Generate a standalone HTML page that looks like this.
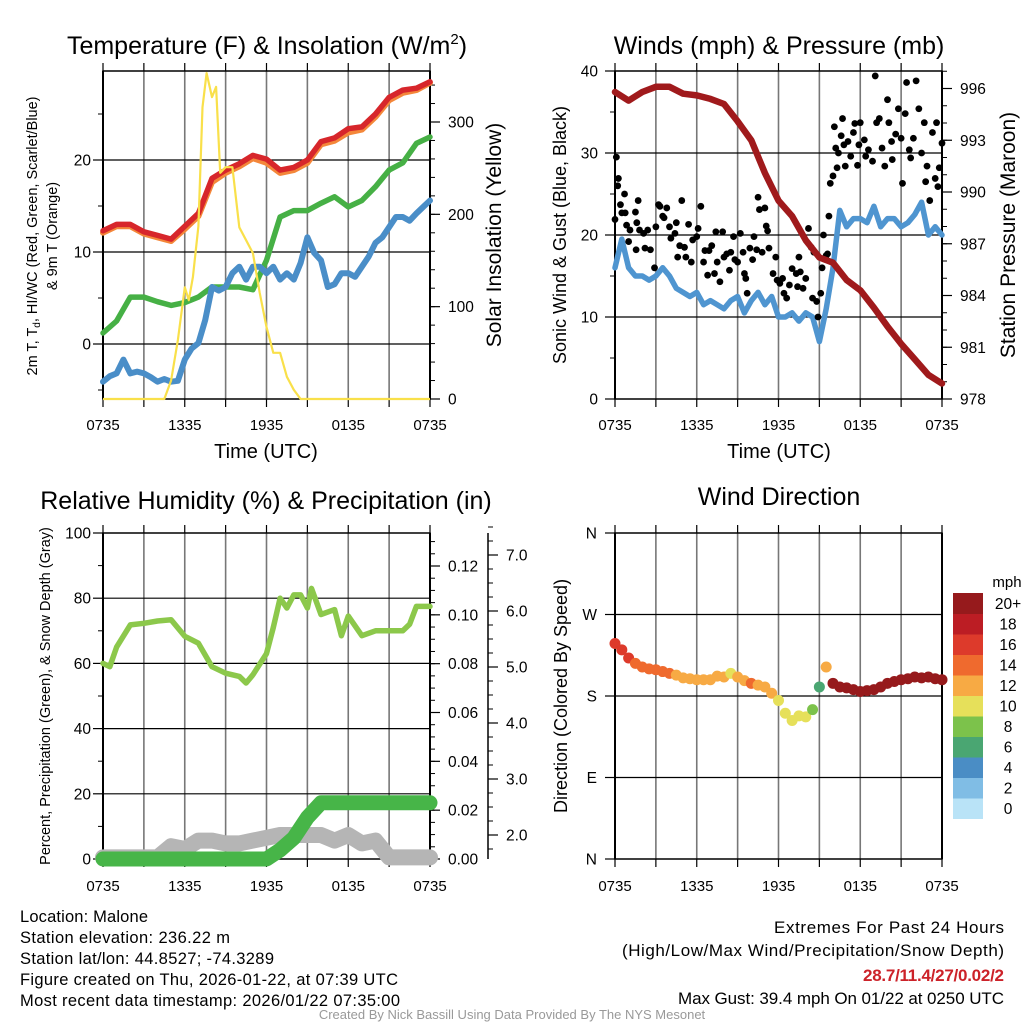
<!DOCTYPE html>
<html><head><meta charset="utf-8">
<style>
html,body{margin:0;padding:0;background:#fff;}
svg{display:block;font-family:"Liberation Sans",sans-serif;}
.narrow{font-family:"Liberation Sans Narrow","Liberation Sans",sans-serif;}
</style></head>
<body>
<svg id="chart" width="1024" height="1024" viewBox="0 0 1024 1024" xmlns="http://www.w3.org/2000/svg">
<rect width="1024" height="1024" fill="#fff"/>
<text x="267" y="54" font-size="25" text-anchor="middle">Temperature (F) &amp; Insolation (W/m<tspan font-size="15" dy="-10">2</tspan><tspan dy="10">)</tspan></text>
<text x="779" y="54" font-size="25" text-anchor="middle">Winds (mph) &amp; Pressure (mb)</text>
<text x="266" y="509" font-size="25" text-anchor="middle">Relative Humidity (%) &amp; Precipitation (in)</text>
<text x="779" y="505" font-size="25" text-anchor="middle">Wind Direction</text>

<text transform="translate(37,236) rotate(-90)" font-size="14.5" text-anchor="middle">2m T, T<tspan font-size="10" dy="3">d</tspan><tspan dy="-3">, HI/WC (Red, Green, Scarlet/Blue)</tspan></text>
<text transform="translate(57,236) rotate(-90)" font-size="14.5" text-anchor="middle">&amp; 9m T (Orange)</text>
<text transform="translate(501,235) rotate(-90)" font-size="21" text-anchor="middle">Solar Insolation (Yellow)</text>
<text transform="translate(566,235) rotate(-90)" font-size="18" text-anchor="middle">Sonic Wind &amp; Gust (Blue, Black)</text>
<text transform="translate(1015,235) rotate(-90)" font-size="21" text-anchor="middle">Station Pressure (Maroon)</text>
<text transform="translate(50,696) rotate(-90)" font-size="14.5" text-anchor="middle">Percent, Precipitation (Green), &amp; Snow Depth (Gray)</text>
<text transform="translate(567,696) rotate(-90)" font-size="18" text-anchor="middle">Direction (Colored By Speed)</text>
<text x="266" y="458" font-size="20" text-anchor="middle">Time (UTC)</text>
<text x="779" y="458" font-size="20" text-anchor="middle">Time (UTC)</text>

<g class="narrow" font-size="16.5">
<text x="20" y="922" textLength="128">Location: Malone</text>
<text x="20" y="943" textLength="210">Station elevation: 236.22 m</text>
<text x="20" y="964" textLength="254">Station lat/lon: 44.8527; -74.3289</text>
<text x="20" y="985" textLength="378">Figure created on Thu, 2026-01-22, at 07:39 UTC</text>
<text x="20" y="1006" textLength="380">Most recent data timestamp: 2026/01/22 07:35:00</text>
</g>
<g class="narrow" font-size="17" text-anchor="end">
<text x="1004" y="933" textLength="230">Extremes For Past 24 Hours</text>
<text x="1004" y="956" textLength="382">(High/Low/Max Wind/Precipitation/Snow Depth)</text>
<text x="1004" y="981" textLength="141" fill="#cc2229" font-weight="bold">28.7/11.4/27/0.02/2</text>
<text x="1004" y="1004" textLength="326">Max Gust: 39.4 mph On 01/22 at 0250 UTC</text>
</g>
<text x="512" y="1019" class="narrow" font-size="13" fill="#999" text-anchor="middle">Created By Nick Bassill Using Data Provided By The NYS Mesonet</text>
</svg>
<script>
// ---------- DATA ----------
const hours=[0,1,2,3,4,5,6,7,8,9,10,11,12,13,14,15,16,17,18,19,20,21,22,23,24];
const halfHours=[0,0.5,1,1.5,2,2.5,3,3.5,4,4.5,5,5.5,6,6.5,7,7.5,8,8.5,9,9.5,10,10.5,11,11.5,12,12.5,13,13.5,14,14.5,15,15.5,16,16.5,17,17.5,18,18.5,19,19.5,20,20.5,21,21.5,22,22.5,23,23.5,24];
const tempRed=[12.3,13.0,13.0,12.2,11.8,11.4,12.8,14.2,18.0,18.9,19.6,20.5,20.1,18.9,19.2,20.0,22.0,22.4,23.4,23.6,25.0,26.8,27.6,27.8,28.5];
const temp9m=[12.1,12.8,12.8,12.0,11.6,11.2,12.5,13.9,17.6,18.6,19.3,20.2,19.7,18.6,18.9,19.7,21.7,22.1,23.0,23.3,24.7,26.5,27.3,27.6,28.4];
const dewpoint=[1.2,2.5,5.1,5.1,4.6,4.2,4.5,5.1,6.2,6.2,6.2,5.9,9.1,13.8,14.5,14.5,15.3,16.0,14.9,15.6,17.1,18.9,19.7,21.8,22.5];
const windChill=[-4.1,-3.5,-3.2,-1.7,-3.2,-3.0,-3.2,-3.6,-4.1,-3.8,-4.1,-4.0,-1.7,-0.5,0.1,2.6,6.2,5.8,6.2,7.7,8.4,7.0,8.4,8.4,7.7,8.4,7.0,7.7,7.0,8.8,11.6,9.9,9.1,6.2,6.5,7.7,7.7,7.3,8.4,9.5,11.0,11.6,12.7,13.8,13.8,13.4,14.2,14.9,15.6];
const solarTimes=[0,4.5,5,5.5,6,6.3,6.6,7,7.3,7.6,8,8.3,8.6,9,9.5,10,10.5,11,11.5,12,12.5,13,13.5,14,14.5,24];
const solarValues=[0,0,20,64,121,107,132,187,316,353,327,338,245,251,251,186,172,158,115,78,50,50,24,10,0,0];
const pressure=[995.8,995.3,995.8,996.1,996.1,995.7,995.6,995.4,995.1,994.1,993.0,991.1,989.5,988.6,987.2,986.2,985.9,984.9,984.3,983.3,982.2,981.2,980.3,979.4,978.9];
const sonicWind=[16,19.5,16,15,15,14.5,15,16,15,13.5,13,12.5,13,11.5,12,11.5,11,12,12.5,10.5,12,13,11.5,12.5,10,10,10.5,9.5,10.5,10,7,11,16,23,21,22,22,21.5,23.5,21,22,22,21,21.5,22.5,24,20,21,20];
const gustTimes=[0,0.1,0.2,0.25,0.4,0.5,0.7,0.75,0.85,1,1.1,1.5,1.55,1.6,1.7,1.8,2.1,2.2,2.4,2.6,2.9,3.0,3.2,3.3,3.5,3.6,3.8,4.0,4.1,4.4,4.5,4.6,4.75,4.9,5.1,5.2,5.4,5.6,5.7,6.0,6.1,6.3,6.5,6.6,6.8,6.9,7.1,7.3,7.4,7.5,7.7,7.9,8.0,8.2,8.4,8.5,8.7,8.8,9.0,9.2,9.4,9.5,9.6,9.7,9.9,10.1,10.2,10.4,10.5,10.6,10.8,11.0,11.1,11.2,11.3,11.6,11.8,11.9,12.1,12.3,12.4,12.6,12.8,13.0,13.3,13.4,13.5,13.6,13.8,14.0,14.2,14.4,14.5,14.6,14.8,14.9,15.1,15.2,15.3,15.5,15.6,15.7,15.8,16.0,16.1,16.2,16.3,16.4,16.6,16.7,16.8,16.9,17.1,17.3,17.5,17.6,17.8,17.9,18.0,18.3,18.4,18.6,18.9,19.1,19.2,19.4,19.6,19.8,20.0,20.1,20.3,20.35,20.6,20.8,21.0,21.1,21.3,21.4,21.6,21.7,21.9,22.1,22.3,22.5,22.7,22.8,22.9,23.1,23.3,23.5,23.6,23.7,23.8,24.0];
const gustValues=[21.9,29.5,26,26.9,23.7,22.7,25,22.7,21.2,19.2,20.6,22.8,18.2,21.5,24.2,20.6,20.2,18.4,20.6,18.2,16,21,23.7,23.5,22.3,22.1,23.3,21,19.6,20.2,21.5,17.3,18.7,24.2,18.5,17.3,21.3,16.7,19.4,19.8,20.8,23.5,16.7,18.1,15.1,18.1,18.7,15.3,20.4,16.7,14.3,20.4,17.3,17.7,15.7,17.9,19.8,17,16.7,20.2,17.9,15.3,14.7,12.9,18.4,17,19.8,18.2,24.6,23.1,17.9,23.3,21.1,20.5,18.4,15.3,17.3,14.5,14.1,14.7,12.9,12.3,13.9,15.9,15.3,13.7,17.3,15.5,13.5,14.7,20.8,18.5,12.3,17.9,11.9,10.0,12.9,16,20,17.5,17.7,22.3,26.3,27.2,33.2,30.6,28.2,30,32.1,34.2,31,28.4,31.4,29.6,32.5,33.6,28.5,31,33.7,31.6,29.6,30.4,29,39.4,33.7,34.2,30.6,28.4,36.5,33.7,31.4,29.2,32.3,35.4,31.8,26.3,34.8,38.6,30.4,29.4,31.8,38.8,35.4,30,33.7,26.5,28.4,24.2,32.5,26.9,33.7,25.9,28.2,31.2];
const rhTimes=[0,0.5,1,2,3,4,5,6,7,8,9,10,10.5,11,12,12.5,13,13.5,14,14.5,15,15.3,16,17,17.5,18,19,20,21,22,22.5,23,24];
const rhValues=[60,59,65,71.8,72.3,73,73.4,68.3,66.2,59,57,56,54,56.5,63,71,80,77,81,81,77,83,75,76.5,68.5,74.5,68.5,70,70,70,72,77.5,77.5];
const precip=[0,0,0,0,0,0,0,0,0,0,0,0,0,0.0037,0.0086,0.017,0.023,0.023,0.023,0.023,0.023,0.023,0.023,0.023,0.023];
const snowDepth=[1.6,1.6,1.6,1.6,1.6,1.8,1.75,1.9,1.9,1.85,1.85,1.9,1.95,2.0,2.0,2.0,2.0,1.9,2.0,1.85,1.9,1.6,1.6,1.6,1.6];
const dirDegrees=[238,231,222,216,212,210,209,207,205,203,200,199,198,198,198,202,201,205,201,197,194,192,190,183,175,161,153,158,157,165,190,212,194,190,189,187,185,186,187,190,194,196,198,199,201,200,201,199,198];
const dirSpeed=[16,17,16,15,14,14,14,14,14,13,13,12,12,12,13,12,12,11,12,13,14,13,13,12,11,10,10,11,10,9,7,12,21,22,21,21,22,22,22,21,21,22,21,21,22,23,21,21,20];
const speedBins=["0","2","4","6","8","10","12","14","16","18","20+"];
const speedColors=["#b9e3f7","#80bde5","#4a8dc5","#4aa672","#7cc24b","#e6e05a","#f7aa44","#ef6a2e","#dd3a2b","#bc1d24","#961a1c"];

// ---------- HELPERS ----------
const NS='http://www.w3.org/2000/svg';
const svg=document.getElementById('chart');
function mk(parent,tag,attrs,name,inter){
  const el=document.createElementNS(NS,tag);
  for(const k in attrs) el.setAttribute(k,attrs[k]);
  
  
  parent.appendChild(el);
  return el;
}
const PW=327;
function xScale(x0){return t=>x0+t/24*PW;}
function yScale(yBot,yTop,vBot,vTop){return v=>yBot+(v-vBot)/(vTop-vBot)*(yTop-yBot);}
function linePath(xs,ys,X,Y){return xs.map((t,i)=>(i?'L':'M')+X(t).toFixed(1)+','+Y(ys[i]).toFixed(1)).join(' ');}
const xLabels=["0735","1335","1935","0135","0735"];

function panelFrame(g,x0,y0,x1,y1,hGridY){
  for(let k=0;k<=8;k++){
    const x=x0+k*PW/8;
    mk(g,'line',{x1:x,y1:y0,x2:x,y2:y1,stroke:(k==0||k==8)?'#000':'#777','stroke-width':(k==0||k==8)?2:1.6},'x-gridline',false);
    mk(g,'line',{x1:x,y1:y0-8,x2:x,y2:y0,stroke:'#000','stroke-width':1.2},'x-tick-top',false);
    mk(g,'line',{x1:x,y1:y1,x2:x,y2:y1+8,stroke:'#000','stroke-width':1.2},'x-tick',false);
  }
  hGridY.forEach(y=>mk(g,'line',{x1:x0,y1:y,x2:x1,y2:y,stroke:'#000','stroke-width':1.2},'y-gridline',false));
  mk(g,'rect',{x:x0,y:y0,width:x1-x0,height:y1-y0,fill:'none',stroke:'#000','stroke-width':1.5},'plot-frame',false);
}
function xTickLabels(g,x0,y){
  xLabels.forEach((s,i)=>{
    const t=mk(g,'text',{x:x0+i*PW/4,y:y,'font-size':15,'text-anchor':'middle'},'x-tick-label',false);
    t.textContent=s;
  });
}
function yAxis(g,x,Y,majors,minors,labelFn,side,labelX,fs){
  const d=side==='left'?-1:1;
  minors.forEach(v=>mk(g,'line',{x1:x,y1:Y(v),x2:x+d*5,y2:Y(v),stroke:'#000','stroke-width':1},'y-minor-tick',false));
  majors.forEach(v=>{
    mk(g,'line',{x1:x,y1:Y(v),x2:x+d*10,y2:Y(v),stroke:'#000','stroke-width':1.2},'y-major-tick',false);
    const t=mk(g,'text',{x:labelX,y:Y(v)+5.5,'font-size':fs||15.5,'text-anchor':side==='left'?'end':'start'},'y-tick-label',false);
    t.textContent=labelFn(v);
  });
}
function range(a,b,s){const r=[];for(let v=a;v<=b+1e-9;v+=s)r.push(+v.toFixed(4));return r;}

// ---------- PANEL 1: Temperature ----------
(function(){
  const g=mk(svg,'g',{},'temperature-panel',false);
  const X=xScale(103), Y=yScale(344,160,0,20), YS=yScale(399,122,0,300);
  panelFrame(g,103,71,430,399,[Y(0),Y(10),Y(20)]);
  xTickLabels(g,103,430);
  yAxis(g,103,Y,[0,10,20],[-5,5,15,25],v=>v,'left',91);
  yAxis(g,430,YS,[0,100,200,300],range(20,340,20),v=>v,'right',448);
  mk(g,'path',{d:linePath(hours,temp9m,X,Y),fill:'none',stroke:'#f4873a','stroke-width':6,'stroke-linejoin':'round','stroke-linecap':'round'},'temp-9m-line',false);
  mk(g,'path',{d:linePath(hours,tempRed,X,Y),fill:'none',stroke:'#d7262b','stroke-width':5.5,'stroke-linejoin':'round','stroke-linecap':'round'},'temp-2m-line',false);
  mk(g,'path',{d:linePath(hours,dewpoint,X,Y),fill:'none',stroke:'#46b045','stroke-width':5.5,'stroke-linejoin':'round','stroke-linecap':'round'},'dewpoint-line',false);
  mk(g,'path',{d:linePath(halfHours,windChill,X,Y),fill:'none',stroke:'#4a8ec8','stroke-width':6,'stroke-linejoin':'round','stroke-linecap':'round'},'windchill-line',false);
  mk(g,'path',{d:linePath(solarTimes,solarValues,X,YS),fill:'none',stroke:'#f9e04a','stroke-width':2.2,'stroke-linejoin':'round'},'solar-insolation-line',false);
})();

// ---------- PANEL 2: Winds ----------
(function(){
  const g=mk(svg,'g',{},'winds-panel',false);
  const X=xScale(615), Y=yScale(399,71,0,40), YP=yScale(399,88.5,978,996);
  panelFrame(g,615,71,942,399,[Y(10),Y(20),Y(30)]);
  xTickLabels(g,615,430);
  yAxis(g,615,Y,[0,10,20,30,40],[5,15,25,35],v=>v,'left',598);
  yAxis(g,942,YP,[978,981,984,987,990,993,996],range(979,997,1),v=>v,'right',960);
  mk(g,'path',{d:linePath(halfHours,sonicWind,X,Y),fill:'none',stroke:'#4f95d0','stroke-width':5.5,'stroke-linejoin':'round','stroke-linecap':'round'},'sonic-wind-line',false);
  gustTimes.forEach((t,i)=>mk(g,'circle',{cx:X(t),cy:Y(gustValues[i]),r:3.4,fill:'#000'},'gust-point',false));
  mk(g,'path',{d:linePath(hours,pressure,X,YP),fill:'none',stroke:'#a01a1c','stroke-width':6.5,'stroke-linejoin':'round','stroke-linecap':'round'},'pressure-line',false);
})();

// ---------- PANEL 3: Humidity ----------
(function(){
  const g=mk(svg,'g',{},'humidity-panel',false);
  const X=xScale(103), Y=yScale(859,533,0,100), YR=yScale(859,566,0,0.12), YS=yScale(835,555,2,7);
  panelFrame(g,103,533,430,859,[Y(20),Y(40),Y(60),Y(80)]);
  xTickLabels(g,103,891);
  yAxis(g,103,Y,[0,20,40,60,80,100],[10,30,50,70,90],v=>v,'left',91);
  yAxis(g,430,YR,[0,0.02,0.04,0.06,0.08,0.10,0.12],range(0.005,0.13,0.005),v=>v.toFixed(2),'right',448);
  mk(g,'line',{x1:488,y1:533,x2:488,y2:859,stroke:'#000','stroke-width':1.5},'snow-axis-line',false);
  yAxis(g,488,YS,[2,3,4,5,6,7],range(1.75,7.5,0.25),v=>v.toFixed(1),'right',506);
  mk(g,'path',{d:linePath(hours,snowDepth,X,YS),fill:'none',stroke:'#b5b5b5','stroke-width':16,'stroke-linejoin':'round','stroke-linecap':'round'},'snow-depth-line',false);
  mk(g,'path',{d:linePath(hours,precip,X,YR),fill:'none',stroke:'#47b548','stroke-width':15,'stroke-linejoin':'round','stroke-linecap':'round'},'precipitation-line',false);
  mk(g,'path',{d:linePath(rhTimes,rhValues,X,Y),fill:'none',stroke:'#8cc84b','stroke-width':5.5,'stroke-linejoin':'round','stroke-linecap':'round'},'relative-humidity-line',false);
})();

// ---------- PANEL 4: Wind direction ----------
(function(){
  const g=mk(svg,'g',{},'wind-direction-panel',false);
  const X=xScale(615), Y=yScale(859,533,0,360);
  panelFrame(g,615,533,942,859,[Y(90),Y(180),Y(270)]);
  xTickLabels(g,615,891);
  const dirLabels=["N","E","S","W","N"];
  [0,90,180,270,360].forEach((v,i)=>{
    mk(g,'line',{x1:605,y1:Y(v),x2:615,y2:Y(v),stroke:'#000','stroke-width':1.2},'direction-tick',false);
    const t=mk(g,'text',{x:597,y:Y(v)+5.5,'font-size':15.5,'text-anchor':'end'},'direction-tick-label',false);
    t.textContent=dirLabels[i];
  });
  function colorFor(s){let k=Math.min(10,Math.max(0,Math.floor(s/2)));return speedColors[k];}
  halfHours.forEach((t,i)=>mk(g,'circle',{cx:X(t),cy:Y(dirDegrees[i]),r:5.5,fill:colorFor(dirSpeed[i])},'direction-point',false));
  const cb=mk(svg,'g',{},'speed-colorbar',false);
  const ml=mk(cb,'text',{x:1007,y:587,'font-size':15,'text-anchor':'middle'},'colorbar-title',false);
  ml.textContent='mph';
  const n=speedBins.length, top=593, bh=20.5;
  speedBins.forEach((s,i)=>{
    const y=top+(n-1-i)*bh;
    mk(cb,'rect',{x:953,y:y,width:30,height:bh+0.5,fill:speedColors[i]},'colorbar-swatch',false);
    const t=mk(cb,'text',{x:1008,y:y+bh/2+5.5,'font-size':15.5,'text-anchor':'middle'},'colorbar-label',false);
    t.textContent=s;
  });
})();
</script>
</body></html>
